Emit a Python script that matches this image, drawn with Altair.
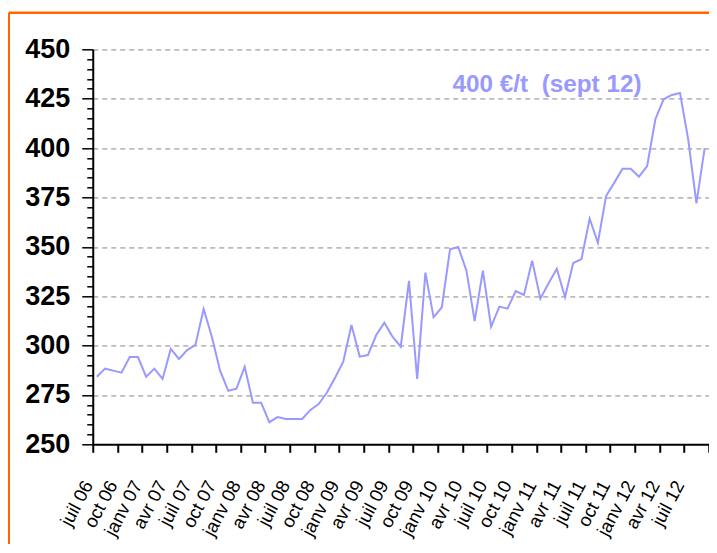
import json
import altair as alt
import pandas as pd

# tick labels, one every 3 months (juil 06 .. juil 12)
quarter_labels = ["juil 06", "oct 06", "janv 07", "avr 07", "juil 07", "oct 07",
                  "janv 08", "avr 08", "juil 08", "oct 08", "janv 09", "avr 09",
                  "juil 09", "oct 09", "janv 10", "avr 10", "juil 10", "oct 10",
                  "janv 11", "avr 11", "juil 11", "oct 11", "janv 12", "avr 12",
                  "juil 12"]

# monthly prices (€/t), juil 06 .. sept 12
prices = [284.2, 288.3, 287.3, 286.3, 294.2, 294.2, 284.2, 288.3, 283.1, 298.3,
          293.2, 297.7, 300.3, 318.5, 304.5, 287.3, 277.1, 278.2, 289.3, 271.1,
          271.1, 261.2, 263.8, 262.8, 262.8, 262.8, 267.4, 270.4, 276.1, 283.7,
          291.8, 310.4, 294.4, 295.2, 305.2, 311.6, 304.5, 299.4, 332.8, 283.1,
          336.9, 314.3, 319.4, 348.7, 349.9, 337.9, 312.4, 337.9, 309.5, 319.7,
          318.7, 327.6, 325.6, 343.0, 323.7, 331.5, 338.9, 324.5, 341.8, 343.8,
          364.2, 352.1, 375.7, 382.5, 389.5, 389.5, 385.5, 390.9, 414.6, 424.7,
          426.9, 427.9, 404.4, 372.0, 400.0]

annotation_text = ["400 €/t\u00a0 (sept 12)"]
annotation_x = [43.8]
annotation_y = [432]

n_months = len(prices)
df = pd.DataFrame({"month": [i + 0.5 for i in range(n_months)], "price": prices})
ann = pd.DataFrame({"x": annotation_x, "y": annotation_y, "t": annotation_text})

FONT = "Liberation Sans"
label_expr = json.dumps(quarter_labels) + "[datum.value / 3] || ''"

x_axis = alt.Axis(
    values=list(range(0, n_months + 1, 3)),
    tickCount=1000,
    labelExpr=label_expr,
    labelAngle=-62,
    labelAlign="right",
    labelBaseline="top",
    labelFont=FONT,
    labelFontSize=18.5,
    labelColor="black",
    labelPadding=25,
    labelOffset=-13,
    labelOverlap=False,
    labelFlush=False,
    grid=False,
    domainColor="black",
    domainWidth=2,
    tickColor="black",
    tickWidth=2,
    tickSize=8,
    title=None,
)

y_axis = alt.Axis(
    values=list(range(250, 451, 5)),
    tickCount=1000,
    format="d",
    labelExpr="datum.value % 25 == 0 ? datum.label : ''",
    labelFont=FONT,
    labelFontSize=27,
    labelFontWeight="bold",
    labelColor="black",
    labelPadding=12,
    labelOverlap=False,
    domainColor="black",
    domainWidth=2,
    tickColor="black",
    tickWidth=1.5,
    tickSize={"condition": {"test": "datum.value % 25 == 0", "value": 11}, "value": 6},
    grid=True,
    gridColor="#BBBBBB",
    gridDash=[5, 4],
    gridWidth=1.8,
    gridOpacity={"condition": {"test": "datum.value % 25 == 0 && datum.value > 250", "value": 1}, "value": 0},
    title=None,
)

x_scale = alt.Scale(domain=[0, n_months], nice=False, zero=False)
y_scale = alt.Scale(domain=[250, 450], nice=False, zero=False)

line = alt.Chart(df).mark_line(color="#9999FF", strokeWidth=2).encode(
    x=alt.X("month:Q", scale=x_scale, axis=x_axis),
    y=alt.Y("price:Q", scale=y_scale, axis=y_axis),
)

label = alt.Chart(ann).mark_text(
    align="left", baseline="middle", font=FONT, fontSize=24.3,
    fontWeight="bold", color="#9999FF"
).encode(
    x=alt.X("x:Q", scale=x_scale),
    y=alt.Y("y:Q", scale=y_scale),
    text="t:N",
)

one = pd.DataFrame({"k": [0]})
border_top = alt.Chart(one).mark_rule(color="#FF6600", strokeWidth=2.5).encode(
    x=alt.value(-84), x2=alt.value(640), y=alt.value(-36.6)
)
border_left = alt.Chart(one).mark_rule(color="#FF6600", strokeWidth=2.5).encode(
    x=alt.value(-84), y=alt.value(-36.6), y2=alt.value(520)
)

chart = alt.layer(border_top, border_left, line, label).properties(
    width=616, height=395,
    autosize=alt.AutoSizeParams(type="none"),
    padding={"left": 84.75, "top": 41.3, "right": 0, "bottom": 99.7},
).configure_view(stroke=None)

chart.save("out.html", embed_options={"renderer": "svg", "actions": False})
